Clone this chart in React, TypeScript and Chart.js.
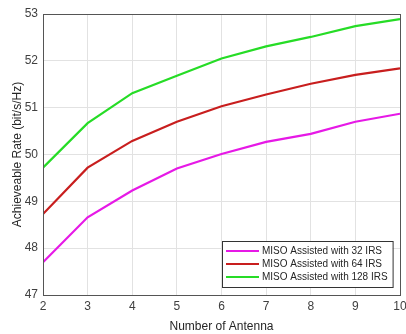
import React, { useEffect, useRef } from "react";
import { Chart, registerables } from "chart.js";

Chart.register(...registerables);

const antennas = [2, 3, 4, 5, 6, 7, 8, 9, 10];
const rate32 = [47.7, 48.66, 49.23, 49.7, 50.01, 50.27, 50.44, 50.7, 50.87];
const rate64 = [48.73, 49.72, 50.29, 50.7, 51.03, 51.28, 51.51, 51.7, 51.84];
const rate128 = [49.72, 50.67, 51.31, 51.68, 52.05, 52.31, 52.51, 52.74, 52.89];
const seriesLabels = [
  "MISO Assisted with 32 IRS",
  "MISO Assisted with 64 IRS",
  "MISO Assisted with 128 IRS",
];
const seriesColors = ["#e619e6", "#c81e1e", "#26dc26"];

const FONT = "'Liberation Sans', Arial, sans-serif";

const boxLegend = {
  id: "boxLegend",
  afterDraw(chart: any) {
    const { ctx, chartArea } = chart;
    ctx.save();
    // axes box
    ctx.strokeStyle = "#555555";
    ctx.lineWidth = 1;
    ctx.strokeRect(
      Math.round(chartArea.left) + 0.5,
      Math.round(chartArea.top) + 0.5,
      Math.round(chartArea.right - chartArea.left),
      Math.round(chartArea.bottom - chartArea.top)
    );
    // legend
    ctx.font = `10px ${FONT}`;
    const items = chart.data.datasets;
    let maxW = 0;
    items.forEach((d: any) => {
      maxW = Math.max(maxW, ctx.measureText(d.label).width);
    });
    const lineLen = 33;
    const rowH = 13;
    const w = 4 + lineLen + 3 + maxW + 5;
    const h = items.length * rowH + 7;
    const x = Math.round(chartArea.right - 7 - w);
    const y = Math.round(chartArea.bottom - 8 - h);
    ctx.fillStyle = "#ffffff";
    ctx.fillRect(x, y, w, h);
    ctx.strokeStyle = "#333333";
    ctx.lineWidth = 1;
    ctx.strokeRect(x + 0.5, y + 0.5, w, h);
    items.forEach((d: any, i: number) => {
      const cy = y + 10 + i * rowH;
      ctx.strokeStyle = d.borderColor;
      ctx.lineWidth = 2;
      ctx.beginPath();
      ctx.moveTo(x + 4, cy);
      ctx.lineTo(x + 4 + lineLen, cy);
      ctx.stroke();
      ctx.fillStyle = "#262626";
      ctx.textBaseline = "middle";
      ctx.textAlign = "left";
      ctx.fillText(d.label, x + 4 + lineLen + 3, cy);
    });
    ctx.restore();
  },
};

export default function App() {
  const ref = useRef<HTMLCanvasElement>(null);
  useEffect(() => {
    const values = [rate32, rate64, rate128];
    const chart = new Chart(ref.current!, {
      type: "line",
      data: {
        datasets: values.map((v, i) => ({
          label: seriesLabels[i],
          data: antennas.map((a, j) => ({ x: a, y: v[j] })),
          borderColor: seriesColors[i],
          backgroundColor: seriesColors[i],
          borderWidth: 2.2,
          pointRadius: 0,
          tension: 0,
        })),
      },
      options: {
        animation: false,
        responsive: false,
        layout: { padding: { top: 14, right: 6, left: 10, bottom: 0 } },
        plugins: { legend: { display: false }, tooltip: { enabled: false } },
        scales: {
          x: {
            type: "linear",
            min: 2,
            max: 10,
            ticks: { stepSize: 1, color: "#404040", font: { family: FONT, size: 12 }, padding: 4 },
            grid: { color: "#e2e2e2", drawTicks: false },
            border: { color: "#555555" },
            title: {
              display: true,
              text: "Number of Antenna",
              color: "#262626",
              font: { family: FONT, size: 12 },
              padding: { top: 0, bottom: 0 },
            },
            afterFit(scale: any) {
              scale.height = 39;
              scale.paddingRight = 0;
              scale.paddingLeft = 0;
            },
          },
          y: {
            min: 47,
            max: 53,
            ticks: { stepSize: 1, color: "#404040", font: { family: FONT, size: 12 }, padding: 5 },
            grid: { color: "#e2e2e2", drawTicks: false },
            border: { color: "#555555" },
            title: {
              display: true,
              text: "Achieveable Rate (bit/s/Hz)",
              color: "#262626",
              font: { family: FONT, size: 12 },
              padding: { top: 0, bottom: 4 },
            },
            afterFit(scale: any) {
              scale.width = 33;
            },
          },
        },
      },
      plugins: [boxLegend],
    });
    return () => chart.destroy();
  }, []);
  return (
    <div style={{ position: "absolute", left: 0, top: 0, width: 406, height: 334, background: "#fff" }}>
      <canvas ref={ref} width={406} height={334} style={{ width: 406, height: 334 }} />
    </div>
  );
}
